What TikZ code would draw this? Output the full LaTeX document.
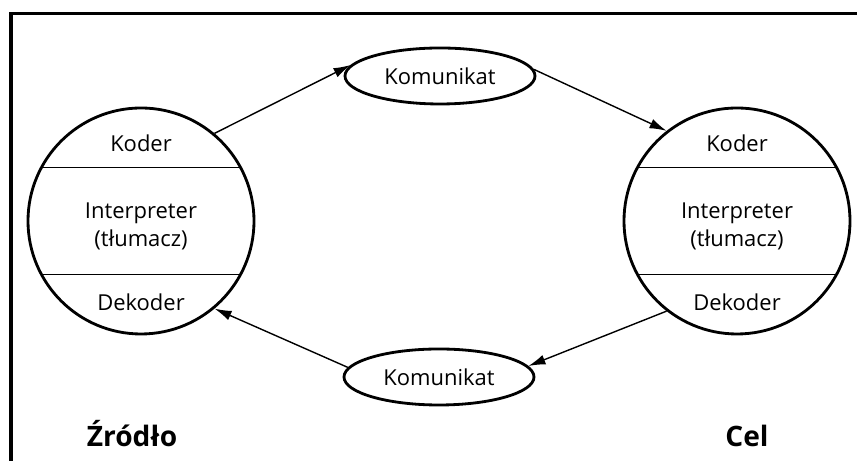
\documentclass[tikz,border=0pt]{standalone}
\usepackage{fontspec}
\setmainfont{Open Sans}
\usetikzlibrary{shapes.geometric,arrows.meta}

\begin{document}
\begin{tikzpicture}[
    party/.style={circle,draw,line width=1.6pt,minimum size=4.52cm,inner sep=0pt},
    message/.style={ellipse,draw,line width=1.6pt,minimum width=3.8cm,minimum height=1.12cm,inner sep=0pt},
    flow/.style={-{Latex[length=3.4mm,width=2mm]},line width=0.8pt},
    lbl/.style={font=\fontsize{12.5}{16}\selectfont,align=center},
    side/.style={font=\fontsize{16}{19}\selectfont\bfseries,anchor=base}]
  \useasboundingbox (0,0) rectangle (17.14,9.22);
  % Frame (only left and top edges show)
  \draw[line width=2pt] (0.22,0) -- (0.22,8.95) -- (17.14,8.95);
  % Source and destination
  \node[party] (src) at (2.82,4.80) {};
  \node[party] (dst) at (14.74,4.80) {};
  \foreach \p in {src,dst} {
    \draw[line width=0.9pt] ([xshift=-1.99cm,yshift=1.07cm]\p.center) -- ++(3.98,0);
    \draw[line width=0.9pt] ([xshift=-1.99cm,yshift=-1.07cm]\p.center) -- ++(3.98,0);
    \node[lbl] (\p-kod) at ([yshift=1.56cm]\p.center) {Koder};
    \node[lbl] (\p-int) at ([yshift=-0.10cm]\p.center) {Interpreter\\(tłumacz)};
    \node[lbl] (\p-dek) at ([yshift=-1.62cm]\p.center) {Dekoder};
  }
  % Messages
  \node[message,lbl] (msgtop) at (8.80,7.70) {Komunikat};
  \node[message,lbl] (msgbot) at (8.78,1.68) {Komunikat};
  % Arrows
  \draw[flow] (src.50) -- (msgtop.173);
  \draw[flow] (msgtop.4) -- (dst.128);
  \draw[flow] (dst.232) -- (msgbot.7);
  \draw[flow] (msgbot.174) -- (src.310);
  % Captions
  \node[side] (srcname) at (2.64,0.28) {Źródło};
  \node[side] (dstname) at (14.94,0.28) {Cel};
\end{tikzpicture}
\end{document}
